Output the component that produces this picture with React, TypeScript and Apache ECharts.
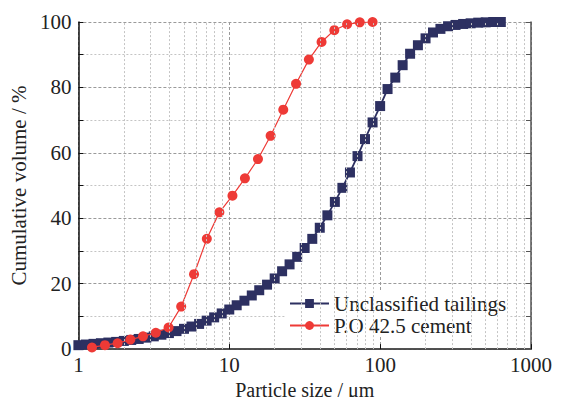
import React, { useEffect, useRef } from "react";
import * as echarts from "echarts";

const tailingsSize = [
  1.0, 1.12, 1.26, 1.41, 1.58, 1.78, 2.0, 2.24, 2.51, 2.82, 3.16, 3.55, 3.98, 4.47, 5.01, 5.62, 6.31, 7.08, 7.94, 8.91,
  10.0, 11.2, 12.6, 14.1, 15.8, 17.8, 20.0, 22.4, 25.1, 28.2, 31.6, 35.5, 39.8, 44.7, 50.1, 56.2, 63.1, 70.8, 79.4, 89.1,
  100, 112, 126, 141, 158, 178, 200, 224, 251, 282, 316, 355, 398, 447, 501, 562, 631,
];
const tailingsVolume = [
  1.2, 1.4, 1.6, 1.8, 2.0, 2.2, 2.5, 2.8, 3.1, 3.5, 3.9, 4.4, 4.9, 5.5, 6.2, 6.9, 7.7, 8.7, 9.7, 10.9,
  12.1, 13.4, 14.8, 16.4, 18.0, 19.7, 21.6, 23.8, 25.9, 28.2, 30.9, 33.7, 37.1, 40.9, 45.0, 49.3, 54.0, 59.0, 64.2, 69.3,
  74.3, 79.5, 83.0, 86.8, 90.3, 92.9, 95.0, 96.8, 97.9, 98.7, 99.1, 99.4, 99.6, 99.8, 99.9, 100, 100,
];
const cementSize = [
  1.23, 1.5, 1.82, 2.21, 2.68, 3.26, 3.96, 4.8, 5.84, 7.1, 8.6, 10.5, 12.7, 15.5, 18.8, 22.8, 27.7, 33.7, 40.9, 49.7,
  60.4, 73.3, 89.1,
];
const cementVolume = [
  0.5, 1.2, 1.8, 2.9, 3.9, 5.0, 6.6, 13.0, 22.9, 33.7, 41.8, 46.9, 52.2, 58.1, 65.2, 73.2, 81.1, 88.5, 93.9, 97.5,
  99.3, 99.9, 100,
];
const xMinorGrid = [2, 3, 4, 5, 6, 7, 8, 9, 20, 30, 40, 50, 60, 70, 80, 90, 200, 300, 400, 500, 600, 700, 800, 900];
const seriesNames = ["Unclassified tailings", "P.O 42.5 cement"];
const xAxisName = "Particle size / μm";
const yAxisName = "Cumulative volume / %";

const FONT = "'Liberation Serif', 'Times New Roman', 'DejaVu Serif', serif";
const NAVY = "#2d3061";
const RED = "#ee3a36";

export default function App() {
  const ref = useRef<HTMLDivElement>(null);
  useEffect(() => {
    if (!ref.current) return;
    const chart = echarts.init(ref.current, undefined, { renderer: "svg" });
    const majorSplit = { show: true, lineStyle: { color: "#9a9a9a", type: [3, 2] as any, width: 1 } };
    chart.setOption({
      animation: false,
      backgroundColor: "#fff",
      textStyle: { fontFamily: FONT },
      grid: { left: 77, right: 32, top: 22, bottom: 49 },
      legend: {
        left: 285,
        top: 292,
        orient: "vertical",
        backgroundColor: "#fff",
        padding: [1, 4, 1, 4],
        itemGap: 1,
        itemWidth: 39,
        itemHeight: 11,
        textStyle: { fontFamily: FONT, fontSize: 21, color: "#222" },
        data: seriesNames,
      },
      xAxis: [
        {
          type: "log",
          logBase: 10,
          min: 1,
          max: 1000,
          name: xAxisName,
          nameLocation: "middle",
          nameGap: 26,
          nameTextStyle: { fontFamily: FONT, fontSize: 20, color: "#222" },
          axisLine: { lineStyle: { color: "#111", width: 1.5 } },
          axisTick: { inside: true, length: 5, lineStyle: { color: "#111" } },
          axisLabel: {
            fontFamily: FONT,
            fontSize: 21,
            color: "#222",
            margin: 5,
            formatter: (v: number) => String(Math.round(v)),
          },
          splitLine: majorSplit,
        },
        {
          type: "log",
          logBase: 10,
          min: 1,
          max: 1000,
          position: "top",
          axisLine: { show: true, lineStyle: { color: "#555", width: 1.5 } },
          axisTick: { show: false },
          axisLabel: { show: false },
          splitLine: { show: false },
        },
      ],
      yAxis: [
        {
          type: "value",
          min: 0,
          max: 100,
          interval: 20,
          name: yAxisName,
          nameLocation: "middle",
          nameGap: 42,
          nameTextStyle: { fontFamily: FONT, fontSize: 21, color: "#222" },
          axisLine: { show: true, lineStyle: { color: "#111", width: 1.5 } },
          axisTick: { show: true, inside: true, length: 5, lineStyle: { color: "#111" } },
          minorTick: { show: true, splitNumber: 2, length: 5, lineStyle: { color: "#111" } },
          axisLabel: { fontFamily: FONT, fontSize: 21, color: "#222", margin: 7 },
          splitLine: majorSplit,
          minorSplitLine: { show: true, lineStyle: { color: "#c4c4c4", type: [2, 2] as any, width: 1 } },
        },
        {
          type: "value",
          min: 0,
          max: 100,
          interval: 20,
          position: "right",
          axisLine: { show: true, lineStyle: { color: "#555", width: 1.5 } },
          axisTick: { show: true, inside: true, length: 5, lineStyle: { color: "#555" } },
          minorTick: { show: true, splitNumber: 2, length: 5, lineStyle: { color: "#555" } },
          axisLabel: { show: false },
          splitLine: { show: false },
        },
      ],
      series: [
        {
          type: "line",
          name: "minor-grid",
          data: [],
          z: 0,
          silent: true,
          markLine: {
            silent: true,
            symbol: "none",
            label: { show: false },
            lineStyle: { color: "#c4c4c4", type: [2, 2], width: 1 },
            data: xMinorGrid.map((v) => ({ xAxis: v })),
          },
        },
        {
          type: "line",
          name: seriesNames[0],
          data: tailingsSize.map((x, i) => [x, tailingsVolume[i]]),
          symbol: "rect",
          symbolSize: 10,
          color: NAVY,
          lineStyle: { color: NAVY, width: 1.8 },
          itemStyle: { color: NAVY },
          z: 3,
        },
        {
          type: "line",
          name: seriesNames[1],
          data: cementSize.map((x, i) => [x, cementVolume[i]]),
          symbol: "circle",
          symbolSize: 10,
          color: RED,
          lineStyle: { color: RED, width: 1.2 },
          itemStyle: { color: RED },
          z: 4,
        },
      ],
    });
    return () => chart.dispose();
  }, []);
  return <div ref={ref} style={{ width: 563, height: 405, margin: -8 }} />;
}
